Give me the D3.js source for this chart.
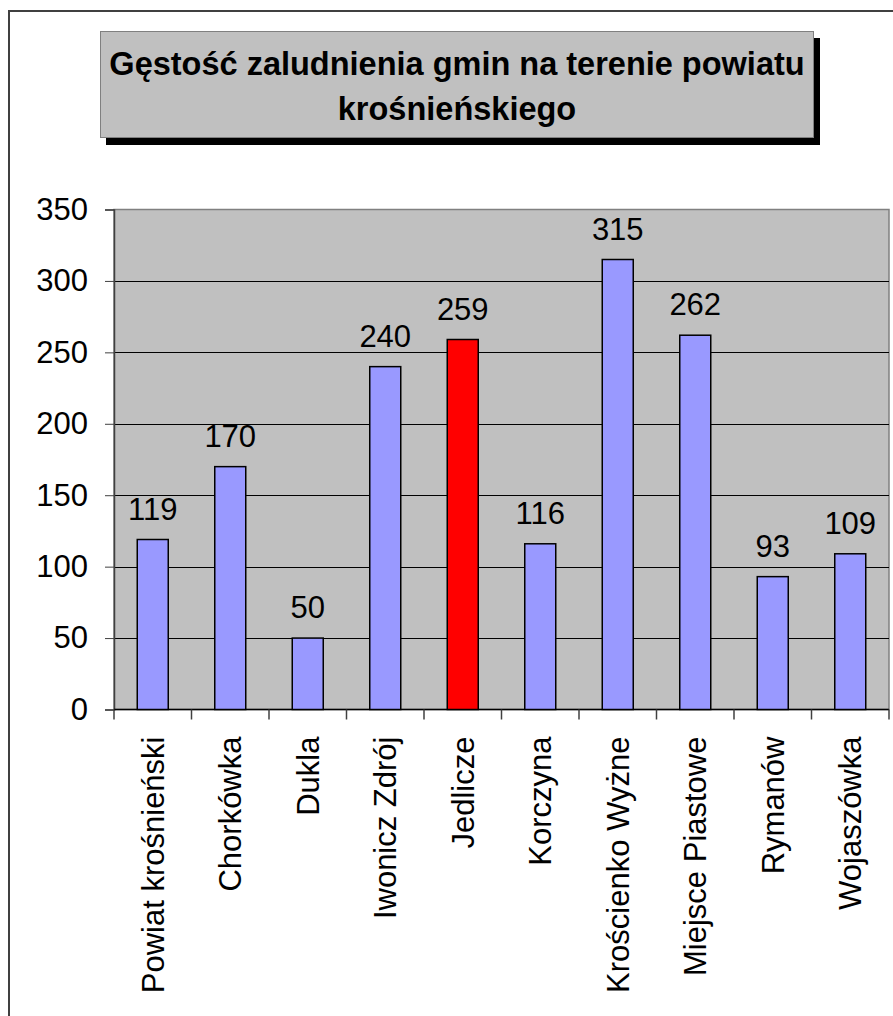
<!DOCTYPE html>
<html>
<head>
<meta charset="utf-8">
<script src="https://cdn.jsdelivr.net/npm/d3@7"></script>
<style>
  body { margin: 0; background: #fff; }
  svg { display: block; font-family: Arial, "Liberation Sans", sans-serif; }
</style>
</head>
<body>
<svg id="chart" width="893" height="1016"></svg>
<script>
const gminy = ['Powiat krośnieński', 'Chorkówka', 'Dukla', 'Iwonicz Zdrój', 'Jedlicze',
  'Korczyna', 'Krościenko Wyżne', 'Miejsce Piastowe', 'Rymanów', 'Wojaszówka']
const gestosc = [119, 170, 50, 240, 259, 116, 315, 262, 93, 109]
const yTicks = [0, 50, 100, 150, 200, 250, 300, 350]
const titleLines = ['Gęstość zaludnienia gmin na terenie powiatu', 'krośnieńskiego']
const highlight = 'Jedlicze'

function draw() {
  const svg = d3.select('#chart')

  // outer chart border (runs off the right / bottom edge)
  svg.append('rect')
    .attr('x', 9).attr('y', 11)
    .attr('width', 900).attr('height', 1020)
    .attr('fill', '#fff')
    .attr('stroke', '#404040')
    .attr('stroke-width', 2)

  // title box with shadow
  svg.append('rect')
    .attr('x', 106).attr('y', 38)
    .attr('width', 714).attr('height', 107)
    .attr('fill', '#000')
  svg.append('rect')
    .attr('x', 100.5).attr('y', 31.5)
    .attr('width', 713).attr('height', 106)
    .attr('fill', '#c0c0c0')
    .attr('stroke', '#808080')
    .attr('stroke-width', 1)
  svg.append('g')
    .selectAll('text')
    .data(titleLines)
    .join('text')
    .attr('x', 457)
    .attr('y', (d, i) => 75 + i * 45)
    .attr('text-anchor', 'middle')
    .attr('font-size', 32.5)
    .attr('font-weight', 'bold')
    .text(d => d)

  const left = 114, right = 889, top = 209.5, bottom = 709.5

  const x = d3.scaleBand()
    .domain(gminy)
    .range([left, right])
    .paddingInner(0.6)
    .paddingOuter(0.3)
  const step = x.step()

  const y = d3.scaleLinear()
    .domain([0, 350])
    .range([bottom, top])

  // plot area
  svg.append('rect')
    .attr('x', left).attr('y', top)
    .attr('width', right - left).attr('height', bottom - top)
    .attr('fill', '#c0c0c0')
    .attr('stroke', '#808080')
    .attr('stroke-width', 1.5)

  // gridlines
  svg.append('g')
    .selectAll('line')
    .data(yTicks.filter(d => d > 0 && d < 350))
    .join('line')
    .attr('x1', left).attr('x2', right)
    .attr('y1', d => Math.round(y(d)) + 0.5)
    .attr('y2', d => Math.round(y(d)) + 0.5)
    .attr('stroke', '#000')
    .attr('stroke-width', 1)

  // y axis
  const yAxis = svg.append('g')
    .attr('transform', `translate(${left},0)`)
    .call(d3.axisLeft(y).tickValues(yTicks).tickSize(9).tickPadding(17))
  yAxis.select('.domain').attr('stroke', '#404040').attr('stroke-width', 1.5)
  yAxis.selectAll('.tick line').attr('stroke', '#404040')
  yAxis.selectAll('.tick text')
    .attr('font-size', 31)
    .attr('font-family', 'Arial, "Liberation Sans", sans-serif')
    .attr('fill', '#000')

  // x axis line + category ticks
  svg.append('line')
    .attr('x1', left).attr('x2', right)
    .attr('y1', bottom).attr('y2', bottom)
    .attr('stroke', '#000').attr('stroke-width', 1.5)
  svg.append('g')
    .selectAll('line')
    .data(d3.range(gminy.length + 1))
    .join('line')
    .attr('x1', i => left + i * step)
    .attr('x2', i => left + i * step)
    .attr('y1', bottom).attr('y2', bottom + 10)
    .attr('stroke', '#404040')
    .attr('stroke-width', 1.5)

  // bars
  svg.append('g')
    .selectAll('rect')
    .data(gminy)
    .join('rect')
    .attr('x', d => x(d))
    .attr('y', (d, i) => y(gestosc[i]))
    .attr('width', x.bandwidth())
    .attr('height', (d, i) => bottom - y(gestosc[i]))
    .attr('fill', d => d === highlight ? '#ff0000' : '#9999ff')
    .attr('stroke', '#000')
    .attr('stroke-width', 1.5)

  // value labels
  svg.append('g')
    .selectAll('text')
    .data(gminy)
    .join('text')
    .attr('x', d => x(d) + x.bandwidth() / 2)
    .attr('y', (d, i) => y(gestosc[i]) - 20)
    .attr('text-anchor', 'middle')
    .attr('font-size', 31)
    .text((d, i) => gestosc[i])

  // category labels, rotated
  svg.append('g')
    .selectAll('text')
    .data(gminy)
    .join('text')
    .attr('transform', d => `translate(${x(d) + x.bandwidth() / 2},${bottom + 27}) rotate(-90)`)
    .attr('dy', '0.35em')
    .attr('text-anchor', 'end')
    .attr('font-size', 31)
    .text(d => d)
}

draw()
</script>
</body>
</html>
